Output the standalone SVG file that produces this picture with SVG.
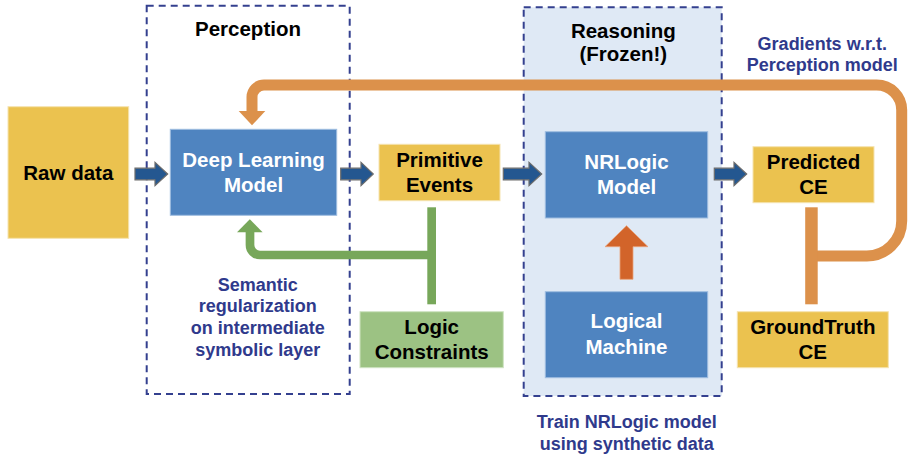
<svg xmlns="http://www.w3.org/2000/svg" width="910" height="457" viewBox="0 0 910 457">
<style>
text{font-family:"Liberation Sans",Arial,sans-serif;font-weight:bold;text-anchor:middle}
.t{font-size:20.5px;fill:#000}
.w{font-size:20.5px;fill:#fff}
.n{font-size:18px;fill:#2f3a8c}
.yel{fill:#ebc24f;stroke:#f5e3b0;stroke-width:1}
.blu{fill:#4f84c0;stroke:#9fbde0;stroke-width:1}
.grn{fill:#9cc283;stroke:#cfe3c2;stroke-width:1}
.dash{fill:none;stroke:#34408f;stroke-width:2;stroke-dasharray:7,5}
.ba{fill:#245790;stroke:#6d6d6d;stroke-width:1.2}
</style>
<rect width="910" height="457" fill="#fff"/>
<g id="reasoning-box"><rect x="523.7" y="7.3" width="198" height="388.7" fill="#dfe9f5"/><rect x="523.7" y="7.3" width="198" height="388.7" class="dash"/><text class="t" x="623.3" y="37.5">Reasoning</text><text class="t" x="623.3" y="60.5">(Frozen!)</text></g>
<g id="perception-box"><rect x="146.7" y="5.7" width="203" height="388.3" class="dash"/><text class="t" x="248" y="36">Perception</text><text class="n" x="257.7" y="290.7">Semantic</text><text class="n" x="257.7" y="312.3">regularization</text><text class="n" x="257.7" y="334">on intermediate</text><text class="n" x="257.7" y="355.7">symbolic layer</text></g>
<g id="connectors">
<path d="M811.5,256 H866 A35,35 0 0 0 901.7,221 V110 A25,25 0 0 0 876.7,85 H264 A12,12 0 0 0 252,97 V112" fill="none" stroke="#dc914b" stroke-width="11"/>
<path d="M238.7,111 H265.3 L252,125.3 Z" fill="#dc914b"/>
<rect x="805.2" y="207.3" width="12.5" height="97" fill="#dc914b"/>
<path d="M431.7,255 H260 A10,10 0 0 1 250,245 V231" fill="none" stroke="#77a75a" stroke-width="8.7"/>
<path d="M237,232.3 H262.6 L249.8,219.3 Z" fill="#77a75a"/>
<rect x="427.3" y="207.3" width="8.7" height="97" fill="#77a75a"/>
<path d="M620,279.3 V246.7 H605 L626.5,225.7 L648,246.7 H633 V279.3 Z" fill="#d2642a" stroke="#e9a27a" stroke-width="0.8"/>
<path class="ba" d="M135,168.2 H155 V162.3 L167.7,174 L155,185.7 V179.8 H135 Z"/>
<path class="ba" d="M340.7,168.2 H361 V162.3 L373.3,174 L361,185.7 V179.8 H340.7 Z"/>
<path class="ba" d="M503.3,168.2 H529 V162.3 L541.7,174 L529,185.7 V179.8 H503.3 Z"/>
<path class="ba" d="M714.3,168.2 H734 V162.3 L746.7,174 L734,185.7 V179.8 H714.3 Z"/>
</g>
<g id="raw-data"><rect x="8" y="106.7" width="120.7" height="131.6" class="yel"/><text class="t" x="68.3" y="180">Raw data</text></g>
<g id="deep-learning"><rect x="170.3" y="129.3" width="166.4" height="86" class="blu"/><text class="w" x="253.5" y="166.7">Deep Learning</text><text class="w" x="253.5" y="192.3">Model</text></g>
<g id="primitive-events"><rect x="379" y="144.3" width="121" height="56.4" class="yel"/><text class="t" x="439.5" y="167">Primitive</text><text class="t" x="439.5" y="192">Events</text></g>
<g id="nrlogic"><rect x="545.3" y="131.7" width="162.4" height="86.3" class="blu"/><text class="w" x="626.5" y="169.3">NRLogic</text><text class="w" x="626.5" y="194.3">Model</text></g>
<g id="predicted-ce"><rect x="753" y="146.7" width="121" height="56" class="yel"/><text class="t" x="813.5" y="169.3">Predicted</text><text class="t" x="813.5" y="194.3">CE</text></g>
<g id="logic-constraints"><rect x="360" y="311.7" width="143.3" height="56" class="grn"/><text class="t" x="431.7" y="334">Logic</text><text class="t" x="431.7" y="359.3">Constraints</text></g>
<g id="logical-machine"><rect x="545.3" y="291.7" width="162.4" height="86" class="blu"/><text class="w" x="626.5" y="328.3">Logical</text><text class="w" x="626.5" y="354">Machine</text></g>
<g id="groundtruth-ce"><rect x="737.3" y="311.7" width="151" height="56" class="yel"/><text class="t" x="812.8" y="334">GroundTruth</text><text class="t" x="812.8" y="359.3">CE</text></g>
<g id="labels"><text class="n" x="822.3" y="50">Gradients w.r.t.</text><text class="n" x="822.3" y="71">Perception model</text><text class="n" x="626.7" y="428.3">Train NRLogic model</text><text class="n" x="626.7" y="450">using synthetic data</text></g>
</svg>
